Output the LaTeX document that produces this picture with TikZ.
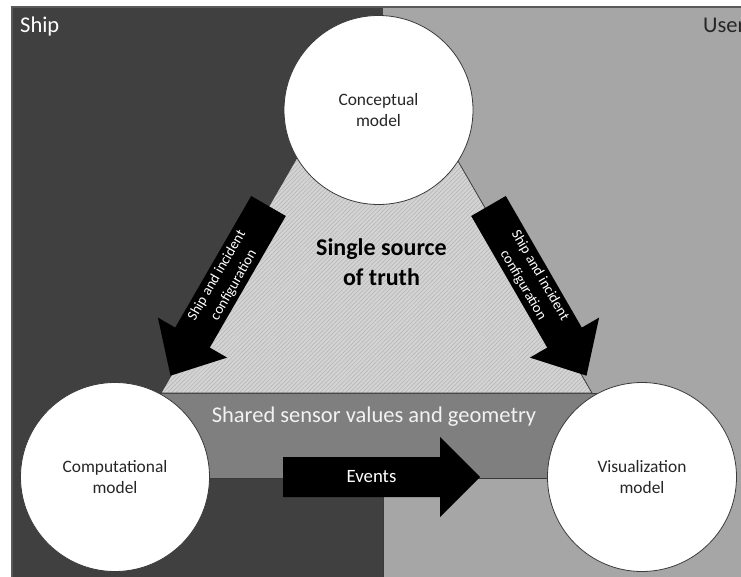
\documentclass[tikz,border=0pt]{standalone}
\usepackage{fontspec}
\setmainfont{Carlito}
\usetikzlibrary{patterns.meta}
\definecolor{shipbg}{HTML}{404040}
\definecolor{userbg}{HTML}{A6A6A6}
\definecolor{bandbg}{HTML}{7F7F7F}
\definecolor{trifill}{HTML}{D4D4D4}
\definecolor{edgecol}{HTML}{3A3A3A}
\definecolor{txtdark}{HTML}{262626}
\begin{document}
\begin{tikzpicture}[x=1pt,y=-1pt,
  model/.style={circle, draw=edgecol, line width=0.8pt, fill=white, minimum size=189pt,
    inner sep=0pt, align=center, text=txtdark, font=\fontsize{17.4}{20.7}\selectfont},
  blockarrow/.style={fill=black},
  arrowtext/.style={text=white, align=center, inner sep=0pt, font=\fontsize{14.5}{19.5}\selectfont},
  region/.style={text=white, inner sep=0pt, font=\fontsize{22.5}{27}\selectfont},
]
\useasboundingbox (0,0) rectangle (741,577);
\fill[white] (0,0) rectangle (741,577);
% background halves
\fill[shipbg] (12,7) rectangle (383,577);
\fill[userbg] (383,7) rectangle (741,577);
\draw[gray!70!black, line width=1.2pt] (12,577) -- (12,7) -- (741,7);
\draw[edgecol, line width=0.8pt] (383,478) -- (383,577);
% shared band
\path[fill=bandbg, draw=edgecol, line width=0.8pt] (115,393) rectangle (642,478);
% single source of truth triangle
\path[fill=trifill] (161,393) -- (376.5,20) -- (592,393) -- cycle;
\path[pattern={Lines[angle=45,distance=3pt,line width=0.7pt]}, pattern color=gray!55]
  (161,393) -- (376.5,20) -- (592,393) -- cycle;
\draw[edgecol, line width=0.8pt] (161,393) -- (376.5,20) -- (592,393) -- cycle;
% block arrows
\fill[blockarrow] (251.2,196) -- (285.8,216) -- (209.8,347.6) -- (227.1,357.6)
  -- (170.5,375.7) -- (157.9,317.6) -- (175.2,327.6) -- cycle;
\fill[blockarrow] (471.2,216) -- (505.8,196) -- (581.8,327.6) -- (599.1,317.6)
  -- (586.5,375.7) -- (529.9,357.6) -- (547.2,347.6) -- cycle;
\fill[blockarrow] (283,457) -- (440,457) -- (440,437) -- (480,477) -- (440,517)
  -- (440,497) -- (283,497) -- cycle;
% models
\node[model] (concept) at (378.5,110) {Conceptual\\model};
\node[model] (comp) at (115,477) {Computational\\model};
\node[model] (vis) at (642,477) {Visualization\\model};
% labels
\node[region, anchor=base west] (shiplbl) at (20,33) {Ship};
\node[region, anchor=base west, text=txtdark] (userlbl) at (703,33) {User};
\node[text=black, align=center, font=\bfseries\fontsize{24}{29.5}\selectfont] (truth)
  at (381.5,262) {Single source\\of truth};
\node[region, anchor=base, text=white!95!black] (shared) at (374,422)
  {Shared sensor values and geometry};
\node[anchor=base, text=white, inner sep=0pt, font=\fontsize{18.8}{22}\selectfont] (events)
  at (371.5,482.7) {Events};
\node[arrowtext, rotate=60] (cfgL) at (225.5,280.5) {Ship and incident\\configuration};
\node[arrowtext, rotate=-60] (cfgR) at (531.5,280.5) {Ship and incident\\configuration};
\end{tikzpicture}
\end{document}
